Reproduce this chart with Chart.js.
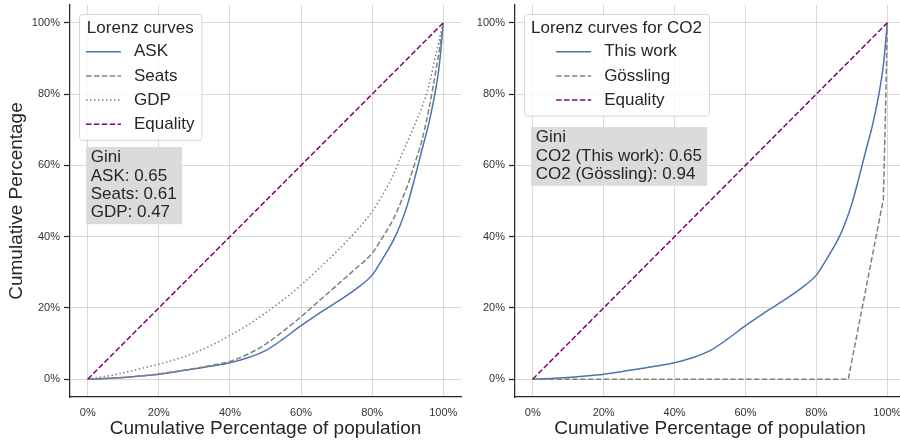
<!DOCTYPE html>
<html>
<head>
<meta charset="utf-8">
<script src="https://cdn.jsdelivr.net/npm/chart.js@4.4.0/dist/chart.umd.min.js"></script>
<style>
  html, body { margin: 0; padding: 0; background: #fff; overflow: hidden; }
  #wrap { position: relative; width: 900px; height: 443px; overflow: hidden; }
  canvas { position: absolute; top: 0; }
</style>
</head>
<body>
<div id="wrap">
  <canvas id="leftChart" width="470" height="443" style="left:0"></canvas>
  <canvas id="rightChart" width="470" height="443" style="left:450px"></canvas>
</div>
<script>
// cumulative share of population (x, %) and of each quantity (y, %)
const popShare   = [0, 5, 10, 15, 20, 25, 30, 35, 40, 45, 50, 55, 60, 65, 70, 75, 80, 82, 84, 86, 88, 90, 92, 94, 96, 98, 99, 100];
const askShare   = [0, 0.2, 0.5, 0.9, 1.4, 2.1, 2.9, 3.7, 4.6, 6.0, 8.0, 11.3, 15.0, 18.4, 21.6, 25.0, 29.2, 32.2, 35.5, 39.0, 43.5, 49.2, 56.5, 64.3, 72.0, 82.0, 89.0, 100];
const seatsShare = [0, 0.2, 0.5, 0.9, 1.5, 2.2, 3.0, 3.9, 5.0, 7.0, 9.8, 13.5, 17.5, 21.9, 26.3, 30.7, 35.3, 38.3, 41.5, 45.0, 49.5, 54.5, 60.5, 67.0, 76.0, 87.0, 93.0, 100];
const gdpShare   = [0, 0.8, 1.8, 3.0, 4.2, 5.6, 7.4, 9.6, 12.3, 15.2, 18.6, 22.3, 26.4, 31.0, 35.8, 41.0, 47.0, 50.2, 53.6, 57.4, 62.3, 66.8, 71.5, 76.3, 82.5, 91.5, 95.8, 100];
// CO2 curves
const co2WorkShare = askShare;
const gosslingPop   = [0, 89, 98.9, 99.6, 100];
const gosslingShare = [0, 0, 50.5, 79.3, 100];
const equalityPop   = [0, 100];
const equalityShare = [0, 100];

const tickValues = [0, 20, 40, 60, 80, 100];

const leftGiniNames = ['ASK', 'Seats', 'GDP'];
const leftGiniValues = [0.65, 0.61, 0.47];
const rightGiniNames = ['CO2 (This work)', 'CO2 (Gössling)'];
const rightGiniValues = [0.65, 0.94];

const blue = '#4c72b0', grey = '#808080', purple = '#800080';
const textColor = '#262626', spineColor = '#262626', gridColor = '#d9d9d9';
const fontFamily = '"Liberation Sans", Arial, sans-serif';
Chart.defaults.font.family = fontFamily;

function pts(xs, ys) {
  return xs.map((x, i) => ({ x: x, y: ys[i] }));
}

function giniLines(names, values) {
  return ['Gini'].concat(names.map((n, i) => n + ': ' + values[i].toFixed(2)));
}

function roundRect(ctx, x, y, w, h, r) {
  ctx.beginPath();
  ctx.moveTo(x + r, y);
  ctx.lineTo(x + w - r, y);
  ctx.arcTo(x + w, y, x + w, y + r, r);
  ctx.lineTo(x + w, y + h - r);
  ctx.arcTo(x + w, y + h, x + w - r, y + h, r);
  ctx.lineTo(x + r, y + h);
  ctx.arcTo(x, y + h, x, y + h - r, r);
  ctx.lineTo(x, y + r);
  ctx.arcTo(x, y, x + r, y, r);
  ctx.closePath();
}

// legend box + gini text box drawn inside the plot area
const overlayPlugin = {
  id: 'overlay',
  afterDraw(chart, args, opts) {
    const ctx = chart.ctx, area = chart.chartArea;
    const sets = chart.data.datasets;
    ctx.save();
    ctx.font = '17px ' + fontFamily;
    const titleW = ctx.measureText(opts.title).width;
    const labelW = Math.max(...sets.map(d => ctx.measureText(d.label).width));
    const blockW = 35 + 13 + labelW;
    const contentW = Math.max(titleW, blockW);
    const bx = area.left + 9, by = area.top + 9;
    const bw = contentW + 14, bh = 29 + sets.length * 24.2;
    roundRect(ctx, bx + 0.5, by + 0.5, bw, bh, 3);
    ctx.fillStyle = 'rgba(255,255,255,0.8)';
    ctx.fill();
    ctx.strokeStyle = '#d6d6d6';
    ctx.lineWidth = 1;
    ctx.stroke();

    ctx.fillStyle = textColor;
    ctx.textBaseline = 'middle';
    ctx.textAlign = 'left';
    ctx.fillText(opts.title, bx + 7 + (contentW - titleW) / 2, by + 14.3);
    const ex = bx + 7 + (contentW - blockW) / 2;
    sets.forEach((d, i) => {
      const ey = by + 37.7 + i * 24.2;
      ctx.beginPath();
      ctx.setLineDash(d.borderDash || []);
      ctx.strokeStyle = d.borderColor;
      ctx.lineWidth = d.borderWidth;
      ctx.moveTo(ex, ey);
      ctx.lineTo(ex + 35, ey);
      ctx.stroke();
      ctx.setLineDash([]);
      ctx.fillText(d.label, ex + 48, ey);
    });

    const lines = opts.gini;
    const gw = Math.max(...lines.map(t => ctx.measureText(t).width)) + 10;
    const gh = 22 + (lines.length - 1) * 18.4;
    const gx = area.left + 16, gy = area.top + opts.giniTop;
    ctx.fillStyle = '#dbdbdb';
    ctx.fillRect(gx, gy, gw, gh);
    ctx.fillStyle = textColor;
    lines.forEach((t, i) => ctx.fillText(t, gx + 4.7, gy + 10.5 + i * 18.4));
    ctx.restore();
  }
};

function makeScales(yTitle, yWidth) {
  const setTicks = axis => { axis.ticks = tickValues.map(v => ({ value: v })); };
  return {
    x: {
      type: 'linear', min: -5, max: 105,
      afterBuildTicks: setTicks,
      afterFit: s => { s.height = 46; s.paddingLeft = 0; s.paddingRight = 0; },
      grid: { color: gridColor, lineWidth: 1, drawTicks: false },
      border: { display: true, color: spineColor, width: 1.25 },
      ticks: { padding: 9, color: '#333', font: { size: 11 }, autoSkip: false, maxRotation: 0, callback: v => v + '%' },
      title: { display: true, text: 'Cumulative Percentage of population', color: textColor,
               font: { size: 19 }, padding: { top: 0, bottom: 3 } }
    },
    y: {
      type: 'linear', min: -5, max: 105,
      afterBuildTicks: setTicks,
      afterFit: s => { s.width = yWidth; s.paddingTop = 0; s.paddingBottom = 0; },
      grid: { color: gridColor, lineWidth: 1, drawTicks: true, tickLength: 6, tickColor: spineColor, tickWidth: 1.25 },
      border: { display: true, color: spineColor, width: 1.25 },
      ticks: { padding: 4, color: '#333', font: { size: 11 }, autoSkip: false, callback: v => v + '%' },
      title: { display: !!yTitle, text: yTitle, color: textColor, font: { size: 19 }, padding: { top: 5, bottom: 0 } }
    }
  };
}

const lineBase = { showLine: true, pointRadius: 0, borderWidth: 1.5, fill: false };

new Chart(document.getElementById('leftChart'), {
  type: 'scatter',
  data: {
    datasets: [
      Object.assign({ label: 'ASK', data: pts(popShare, askShare), borderColor: blue, cubicInterpolationMode: 'monotone', order: 4 }, lineBase),
      Object.assign({ label: 'Seats', data: pts(popShare, seatsShare), borderColor: grey, borderDash: [5.5, 2.4], cubicInterpolationMode: 'monotone', order: 3 }, lineBase),
      Object.assign({ label: 'GDP', data: pts(popShare, gdpShare), borderColor: grey, borderDash: [1.5, 2.5], cubicInterpolationMode: 'monotone', order: 2 }, lineBase),
      Object.assign({ label: 'Equality', data: pts(equalityPop, equalityShare), borderColor: purple, borderDash: [5.5, 2.4], order: 1 }, lineBase)
    ]
  },
  options: {
    responsive: false,
    animation: false,
    events: [],
    layout: { padding: { top: 5, right: 9, left: 0, bottom: 0 } },
    scales: makeScales('Cumulative Percentage', 70),
    plugins: {
      legend: { display: false },
      tooltip: { enabled: false },
      overlay: { title: 'Lorenz curves', gini: giniLines(leftGiniNames, leftGiniValues), giniTop: 142 }
    }
  },
  plugins: [overlayPlugin]
});

new Chart(document.getElementById('rightChart'), {
  type: 'scatter',
  data: {
    datasets: [
      Object.assign({ label: 'This work', data: pts(popShare, co2WorkShare), borderColor: blue, cubicInterpolationMode: 'monotone', order: 3 }, lineBase),
      Object.assign({ label: 'Gössling', data: pts(gosslingPop, gosslingShare), borderColor: grey, borderDash: [5.5, 2.4], order: 2 }, lineBase),
      Object.assign({ label: 'Equality', data: pts(equalityPop, equalityShare), borderColor: purple, borderDash: [5.5, 2.4], order: 1 }, lineBase)
    ]
  },
  options: {
    responsive: false,
    animation: false,
    events: [],
    layout: { padding: { top: 5, right: 15, left: 0, bottom: 0 } },
    scales: makeScales('', 65),
    plugins: {
      legend: { display: false },
      tooltip: { enabled: false },
      overlay: { title: 'Lorenz curves for CO2', gini: giniLines(rightGiniNames, rightGiniValues), giniTop: 122 }
    }
  },
  plugins: [overlayPlugin]
});
</script>
</body>
</html>
